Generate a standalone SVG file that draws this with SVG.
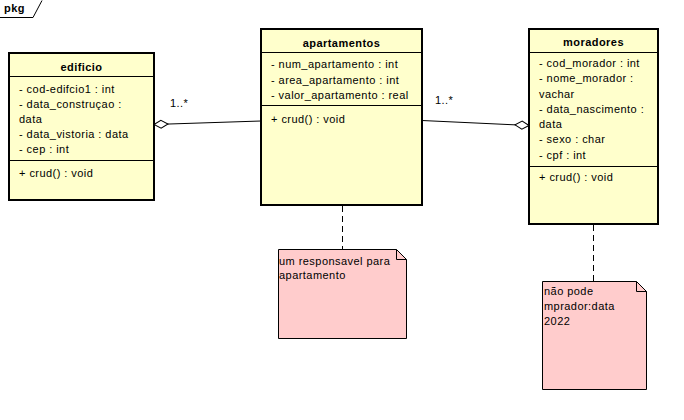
<svg xmlns="http://www.w3.org/2000/svg" width="684" height="420" viewBox="0 0 684 420">
  <style>
    .cls { fill: #FFFFCC; stroke: #000; stroke-width: 2; }
    .div { stroke: #000; stroke-width: 1; }
    .note { fill: #FFCCCC; stroke: #000; stroke-width: 1; }
    .t { font-family: "Liberation Sans", Arial, sans-serif; font-size: 11px; fill: #000; letter-spacing: 0.45px; }
    .b { font-weight: bold; text-anchor: middle; }
    .edge { stroke: #000; stroke-width: 1; fill: none; }
    .dash { stroke: #000; stroke-width: 1; stroke-dasharray: 6 4; fill: none; }
  </style>
  <defs>
    <marker id="diamond" viewBox="0 0 16 10" refX="1" refY="5" markerWidth="16" markerHeight="10" markerUnits="userSpaceOnUse" orient="auto">
      <path d="M1,5 L8,1 L15,5 L8,9 Z" fill="#fff" stroke="#000" stroke-width="1"/>
    </marker>
  </defs>
  <rect width="684" height="420" fill="#fff"/>

  <!-- package frame tab -->
  <g id="pkg">
    <path d="M0,17.5 H33 L42,0.5" class="edge"/>
    <text class="t" x="4" y="12" font-weight="bold">pkg</text>
  </g>

  <!-- connectors -->
  <g id="connectors">
    <path d="M154,124.5 L261,121" class="edge" marker-start="url(#diamond)"/>
    <path d="M529,125.5 L422,120.5" class="edge" marker-start="url(#diamond)"/>
    <text class="t" x="170" y="107">1..*</text>
    <text class="t" x="435" y="104">1..*</text>
    <path d="M342.5,206 V249" class="dash"/>
    <path d="M593.5,225 V281" class="dash"/>
  </g>

  <g id="edificio">
    <rect class="cls" x="9" y="53" width="145" height="147"/>
    <line class="div" x1="9" y1="76.5" x2="154" y2="76.5"/>
    <line class="div" x1="9" y1="160.5" x2="154" y2="160.5"/>
    <text class="t b" x="81.5" y="71">edificio</text>
    <text class="t" x="19" y="93">- cod-edifcio1 : int</text>
    <text class="t" x="19" y="108">- data_construçao :</text>
    <text class="t" x="19" y="122.5">data</text>
    <text class="t" x="19" y="138">- data_vistoria : data</text>
    <text class="t" x="19" y="152.5">- cep : int</text>
    <text class="t" x="19" y="177">+ crud() : void</text>
  </g>

  <g id="apartamentos">
    <rect class="cls" x="261" y="29" width="161" height="176"/>
    <line class="div" x1="261" y1="52.5" x2="422" y2="52.5"/>
    <line class="div" x1="261" y1="105.5" x2="422" y2="105.5"/>
    <text class="t b" x="341.5" y="47">apartamentos</text>
    <text class="t" x="271" y="68">- num_apartamento : int</text>
    <text class="t" x="271" y="84">- area_apartamento : int</text>
    <text class="t" x="271" y="98.5">- valor_apartamento : real</text>
    <text class="t" x="271" y="123">+ crud() : void</text>
  </g>

  <g id="moradores">
    <rect class="cls" x="529" y="29" width="129" height="195"/>
    <line class="div" x1="529" y1="52.5" x2="658" y2="52.5"/>
    <line class="div" x1="529" y1="166.5" x2="658" y2="166.5"/>
    <text class="t b" x="593.5" y="46">moradores</text>
    <text class="t" x="539" y="67">- cod_morador : int</text>
    <text class="t" x="539" y="82">- nome_morador :</text>
    <text class="t" x="539" y="97.5">vachar</text>
    <text class="t" x="539" y="113">- data_nascimento :</text>
    <text class="t" x="539" y="128">data</text>
    <text class="t" x="539" y="143">- sexo : char</text>
    <text class="t" x="539" y="158.5">- cpf : int</text>
    <text class="t" x="539" y="181">+ crud() : void</text>
  </g>

  <g id="note-apartamento">
    <path class="note" d="M278.5,249.5 H396.5 L406.5,259.5 V338.5 H278.5 Z"/>
    <path class="edge" d="M396.5,249.5 V259.5 H406.5"/>
    <text class="t" x="279" y="265">um responsavel para</text>
    <text class="t" x="279" y="279">apartamento</text>
  </g>

  <g id="note-morador">
    <path class="note" d="M542.5,281.5 H636.5 L646.5,291.5 V389.5 H542.5 Z"/>
    <path class="edge" d="M636.5,281.5 V291.5 H646.5"/>
    <text class="t" x="544" y="295">não pode</text>
    <text class="t" x="544" y="310">mprador:data</text>
    <text class="t" x="544" y="325">2022</text>
  </g>
</svg>
